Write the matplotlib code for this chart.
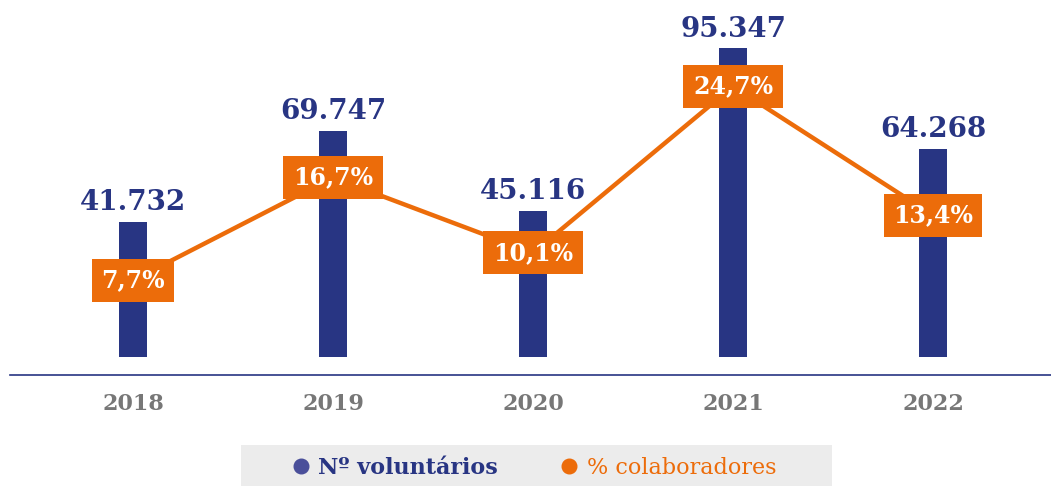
import matplotlib
matplotlib.use("Agg")
import matplotlib.pyplot as plt
from matplotlib.patches import Rectangle
from matplotlib.lines import Line2D

years = ["2018", "2019", "2020", "2021", "2022"]
voluntarios = [41732, 69747, 45116, 95347, 64268]
colaboradores_pct = [7.7, 16.7, 10.1, 24.7, 13.4]

NAVY = "#283583"
ORANGE = "#EC6C0A"
GREY = "#777777"

plt.rcParams['font.family'] = ['DejaVu Serif']

W, H = 1051, 486
fig = plt.figure(figsize=(W / 100, H / 100), dpi=100)
ax_left = 10 / W
ax_bottom = 1 - 375 / H
ax = fig.add_axes([ax_left, ax_bottom, 1 - ax_left, 375 / H])

x = list(range(len(years)))
px_per_unit = 3.24 / 1000
ax.set_xlim((10 - 133) / 200, (1051 - 133) / 200)
ax.set_ylim(-18 / px_per_unit, (375 - 18) / px_per_unit)

ax.bar(x, voluntarios, width=0.14, color=NAVY, zorder=2)
for xi, v in zip(x, voluntarios):
    ax.annotate(f"{v:,}".replace(",", "."), (xi, v), xytext=(0, 4),
                textcoords="offset points", ha="center", va="bottom",
                fontsize=20, color=NAVY, fontweight="bold")

for s in ["top", "right", "left"]:
    ax.spines[s].set_visible(False)
ax.spines["bottom"].set_color(NAVY)
ax.spines["bottom"].set_linewidth(1.2)
ax.set_yticks([])
ax.set_xticks(x)
ax.set_xticklabels(years, fontsize=16, color=GREY, fontweight="bold")
ax.tick_params(axis="x", length=0, pad=13)

ax2 = ax.twinx()
ax2.set_ylim(-7 / 11.4, 368 / 11.4)
ax2.set_xlim(ax.get_xlim())
ax2.axis("off")
ax2.plot(x, colaboradores_pct, color=ORANGE, lw=3.2, zorder=3)
for xi, p in zip(x, colaboradores_pct):
    ax2.text(xi, p, f"{p:.1f}%".replace(".", ","), ha="center", va="center",
             fontsize=17, color="white", fontweight="bold", zorder=5,
             bbox=dict(boxstyle="square,pad=0.4", facecolor=ORANGE, edgecolor="none"))

# Legend
fig.patches.append(Rectangle((241 / W, 0), (832 - 241) / W, 41 / H,
                             transform=fig.transFigure, facecolor="#ECECEC",
                             edgecolor="none", zorder=0))
handles = [Line2D([], [], marker="o", ls="none", color="#4A4F9A", markersize=10.5),
           Line2D([], [], marker="o", ls="none", color=ORANGE, markersize=10.5)]
leg = fig.legend(handles, ["Nº voluntários", "% colaboradores"], loc="center",
                 bbox_to_anchor=(532 / W, 1 - 468 / H), ncol=2, frameon=False,
                 fontsize=16, handletextpad=0.2, columnspacing=2.6, handlelength=1.2)
texts = leg.get_texts()
texts[0].set_color(NAVY)
texts[0].set_fontweight("bold")
texts[1].set_color(ORANGE)

fig.savefig("out.png", dpi=100)
